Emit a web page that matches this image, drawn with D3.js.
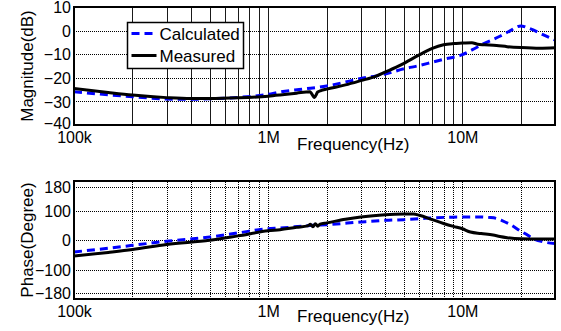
<!DOCTYPE html>
<html>
<head>
<meta charset="utf-8">
<script src="https://cdn.jsdelivr.net/npm/d3@7"></script>
<style>
  html, body { margin: 0; padding: 0; background: #fff; }
  #chart { width: 561px; height: 331px; }
  text { font-family: "Liberation Sans", Arial, sans-serif; fill: #000; }
</style>
</head>
<body>
<div id="chart"></div>
<script>
// frequency (Hz) values, magnitude in dB, phase in degrees
const magMeasFreq = [1e5, 1.5e5, 2e5, 3e5, 4e5, 5e5, 7e5, 1e6, 1.15e6, 1.4e6, 1.64e6, 1.73e6, 1.8e6, 1.87e6, 2e6, 2.5e6, 3e6, 3.6e6, 4e6, 4.8e6, 6e6, 7e6, 8e6, 9e6, 1e7, 1.12e7, 1.2e7, 1.3e7, 1.5e7, 1.7e7, 2e7, 2.5e7, 3e7];
const magMeas = [-24.5, -26.2, -27.3, -28.4, -28.8, -28.8, -28.5, -27.8, -27.3, -26.5, -25.9, -28.3, -26.0, -25.4, -24.8, -23.0, -21.2, -19.3, -17.6, -14.6, -10.3, -7.5, -6.0, -5.5, -5.3, -5.1, -5.8, -6.0, -6.3, -6.8, -7.2, -7.5, -7.3];

const magCalcFreq = [1e5, 1.5e5, 2e5, 3e5, 4e5, 5e5, 7e5, 1e6, 1.15e6, 1.5e6, 2e6, 2.5e6, 3e6, 3.6e6, 4e6, 5e6, 6e6, 7e6, 8e6, 1e7, 1.12e7, 1.29e7, 1.57e7, 1.77e7, 1.9e7, 2e7, 2.15e7, 2.33e7, 2.52e7, 3e7];
const magCalc = [-25.9, -27.2, -28.0, -29.0, -29.1, -28.9, -28.3, -27.0, -26.0, -24.8, -23.5, -21.8, -20.3, -19.2, -18.4, -16.2, -14.8, -13.4, -12.2, -10.2, -8.2, -5.5, -2.3, 0.0, 1.5, 2.0, 1.3, 0.2, -1.2, -4.0];

const phMeasFreq = [1e5, 1.5e5, 2e5, 3e5, 5e5, 7e5, 1e6, 1.15e6, 1.4e6, 1.6e6, 1.65e6, 1.7e6, 1.75e6, 1.8e6, 1.85e6, 2e6, 2.5e6, 3e6, 4e6, 5e6, 5.6e6, 6e6, 7e6, 8e6, 9e6, 1e7, 1.1e7, 1.25e7, 1.44e7, 1.56e7, 1.7e7, 2e7, 2.5e7, 3e7];
const phMeas = [-54, -42, -32.5, -15, -1, 14, 31, 35, 43, 48, 53, 45, 55, 47, 54, 58, 70, 78, 86, 88, 88, 84, 69, 56, 46, 38, 27, 22, 17, 12, 8, 4, 3, 3];

const phCalcFreq = [1e5, 1.5e5, 2e5, 3e5, 5e5, 7e5, 1e6, 1.15e6, 1.5e6, 1.7e6, 2e6, 3e6, 4e6, 5e6, 6e6, 7e6, 9e6, 1e7, 1.2e7, 1.4e7, 1.5e7, 1.6e7, 1.76e7, 2e7, 2.1e7, 2.33e7, 2.6e7, 3e7];
const phCalc = [-40.5, -28, -18, -4.4, 10, 24, 38.5, 40.5, 47, 50, 52, 61, 66.6, 69, 72, 75, 77.5, 78, 78, 76, 73, 66, 53, 30, 22, 4, -6, -12];

const freqTicks = [1e5, 1e6, 1e7];
const freqTickLabels = ["100k", "1M", "10M"];
const magTicks = [-40, -30, -20, -10, 0, 10];
const phaseTicks = [-180, -100, 0, 100, 180];
const seriesNames = ["Calculated", "Measured"];

const W = 561, H = 331;
const colors = { calc: "#0000ff", meas: "#000000", grid: "#000000" };
const fontTick = 16, fontLabel = 17;
const fontStack = '"Liberation Sans", Arial, sans-serif';

const svg = d3.select("#chart").append("svg").attr("width", W).attr("height", H);

// minor + major grid positions on the log axis
function logGridValues(lo, hi) {
  const vals = [];
  for (let e = Math.floor(Math.log10(lo)); e <= Math.ceil(Math.log10(hi)); e++) {
    for (let m = 1; m < 10; m++) {
      const v = m * Math.pow(10, e);
      if (v > lo * 1.001 && v < hi * 0.999) vals.push(v);
    }
  }
  return vals;
}

function drawPanel(opt) {
  const { top, bottom, left, right, yDomain, yTicks, yLabel, series, solidVertical, xLabelY } = opt;
  const x = d3.scaleLog().domain([1e5, 3e7]).range([left, right]);
  const y = d3.scaleLinear().domain(yDomain).range([bottom, top]);
  const h = bottom - top, w = right - left;

  const g = svg.append("g");

  // vertical grid
  g.append("g")
    .attr("transform", `translate(0,${bottom})`)
    .call(d3.axisBottom(x).tickValues(logGridValues(1e5, 3e7)).tickSize(-h).tickFormat(""))
    .call(s => s.select(".domain").remove())
    .call(s => s.selectAll("line")
      .attr("stroke", solidVertical ? "#1a1a1a" : colors.grid)
      .attr("stroke-width", 1)
      .attr("stroke-dasharray", solidVertical ? null : "1,1")
      .attr("shape-rendering", "crispEdges"));

  // horizontal grid
  g.append("g")
    .attr("transform", `translate(${left},0)`)
    .call(d3.axisLeft(y).tickValues(yTicks).tickSize(-w).tickFormat(""))
    .call(s => s.select(".domain").remove())
    .call(s => s.selectAll("line")
      .attr("stroke", colors.grid)
      .attr("stroke-width", 1)
      .attr("stroke-dasharray", "1,1")
      .attr("shape-rendering", "crispEdges"));

  // curves
  const clipId = "clip" + top;
  svg.append("clipPath").attr("id", clipId)
    .append("rect").attr("x", left).attr("y", top).attr("width", w).attr("height", h);
  const line = d3.line().x(d => x(d[0])).y(d => y(d[1])).curve(d3.curveMonotoneX);
  series.forEach(s => {
    const pts = s.f.map((f, i) => [f, s.v[i]]);
    g.append("path")
      .datum(pts)
      .attr("clip-path", `url(#${clipId})`)
      .attr("fill", "none")
      .attr("stroke", s.color)
      .attr("stroke-width", 3)
      .attr("stroke-dasharray", s.dash)
      .attr("d", line);
  });

  // frame
  g.append("rect")
    .attr("x", left).attr("y", top).attr("width", w).attr("height", h)
    .attr("fill", "none").attr("stroke", "#000").attr("stroke-width", 2);

  // tick labels
  g.append("g")
    .attr("transform", `translate(0,${bottom})`)
    .call(d3.axisBottom(x).tickValues(freqTicks).tickSize(0).tickFormat((d, i) => freqTickLabels[i]))
    .call(s => s.select(".domain").remove())
    .call(s => s.selectAll("text")
      .attr("y", 17.5).attr("dy", 0)
      .style("font-size", fontTick + "px")
      .style("font-family", fontStack)
      .attr("fill", "#000"));

  g.append("g")
    .attr("transform", `translate(${left},0)`)
    .call(d3.axisLeft(y).tickValues(yTicks).tickSize(0).tickPadding(3))
    .call(s => s.select(".domain").remove())
    .call(s => s.selectAll("text")
      .attr("dy", d => d === yDomain[0] ? "0.2em" : "0.36em") // lowest label sits a bit higher
      .style("font-size", fontTick + "px")
      .style("font-family", fontStack)
      .attr("fill", "#000"));

  // axis titles
  g.append("text")
    .attr("x", 297).attr("y", xLabelY)
    .style("font-size", fontLabel + "px")
    .text("Frequency(Hz)");

  g.append("text")
    .attr("transform", `translate(33,${(top + bottom) / 2}) rotate(-90)`)
    .attr("text-anchor", "middle")
    .style("font-size", fontLabel + "px")
    .text(yLabel);
}

drawPanel({
  top: 7, bottom: 125, left: 74, right: 555,
  yDomain: [-40, 10], yTicks: magTicks, yLabel: "Magnitude(dB)",
  solidVertical: true, xLabelY: 150,
  series: [
    { f: magCalcFreq, v: magCalc, color: colors.calc, dash: "8,5" },
    { f: magMeasFreq, v: magMeas, color: colors.meas, dash: null }
  ]
});

drawPanel({
  top: 181, bottom: 299, left: 74, right: 555,
  yDomain: [-200, 200], yTicks: phaseTicks, yLabel: "Phase(Degree)",
  solidVertical: false, xLabelY: 322,
  series: [
    { f: phCalcFreq, v: phCalc, color: colors.calc, dash: "8,5" },
    { f: phMeasFreq, v: phMeas, color: colors.meas, dash: null }
  ]
});

// legend
const lg = svg.append("g").attr("transform", "translate(127.5,22.5)");
lg.append("rect").attr("width", 116).attr("height", 46)
  .attr("fill", "#fff").attr("stroke", "#000").attr("stroke-width", 1.5);
lg.append("line").attr("x1", 4).attr("x2", 27).attr("y1", 11).attr("y2", 11)
  .attr("stroke", colors.calc).attr("stroke-width", 3).attr("stroke-dasharray", "8,5");
lg.append("line").attr("x1", 4).attr("x2", 29).attr("y1", 33).attr("y2", 33)
  .attr("stroke", colors.meas).attr("stroke-width", 3);
lg.append("text").attr("x", 32).attr("y", 17).style("font-size", fontLabel + "px").text(seriesNames[0]);
lg.append("text").attr("x", 32).attr("y", 39).style("font-size", fontLabel + "px").text(seriesNames[1]);
</script>
</body>
</html>
